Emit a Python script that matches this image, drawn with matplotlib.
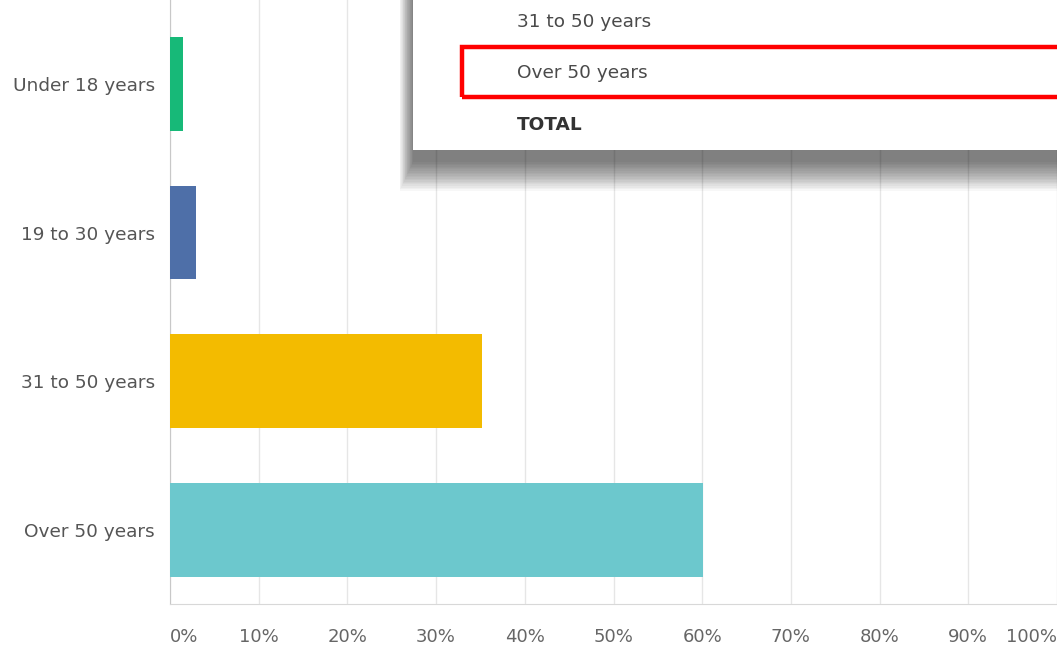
import matplotlib.pyplot as plt
from matplotlib.patches import Rectangle

# Survey answers (percent of respondents)
categories = ['Over 50 years', '31 to 50 years', '19 to 30 years', 'Under 18 years']
values = [60.1, 35.2, 2.9, 1.5]
colors = ['#6cc8cd', '#f3bb00', '#4e6fa8', '#17b978']
ticks = [0, 10, 20, 30, 40, 50, 60, 70, 80, 90, 100]
tick_labels = ['%d%%' % t for t in ticks]

# Rows of the popup table shown over the chart
popup_rows = ['31 to 50 years', 'Over 50 years', 'TOTAL']

W, H = 1057, 651
plt.rcParams['font.family'] = ['DejaVu Sans']
fig = plt.figure(figsize=(W / 100, H / 100), dpi=100)
ax = fig.add_axes([170 / W, 47 / H, 1 - 170 / W, 1 - 47 / H])

ax.barh(range(len(categories)), values, height=0.63, color=colors, zorder=3)
ax.set_xlim(0, 100)
ax.set_ylim(-0.498, 3.565)

ax.set_xticks(ticks)
ax.set_xticklabels(tick_labels)
ax.set_yticks(range(len(categories)))
ax.set_yticklabels(categories)
ax.tick_params(axis='x', length=0, pad=17, labelsize=13, labelcolor='#666666')
ax.tick_params(axis='y', length=0, pad=11, labelsize=13.3, labelcolor='#555555')
xl = ax.get_xticklabels()
xl[0].set_ha('left')
xl[-1].set_ha('right')

ax.grid(axis='x', color='#e6e6e6', linewidth=1, zorder=0)
for s in ['top', 'right']:
    ax.spines[s].set_visible(False)
ax.spines['left'].set_color('#c8c8c8')
ax.spines['bottom'].set_color('#d8d8d8')


def px(x, y, w, h):
    # pixel box (from top-left) -> figure fraction
    return (x / W, 1 - (y + h) / H), w / W, h / H


# soft shadow under the popup
for k in range(20):
    (x0, y0), w, h = px(413 - k * 0.7, -10, 700, 160 + 12 + k * 1.5)
    fig.patches.append(Rectangle((x0, y0), w, h, transform=fig.transFigure,
                                 facecolor='black', alpha=0.03, edgecolor='none', zorder=10))

(x0, y0), w, h = px(413, -10, 700, 160)
fig.patches.append(Rectangle((x0, y0), w, h, transform=fig.transFigure,
                             facecolor='white', edgecolor='none', zorder=11))

(x0, y0), w, h = px(462, 47, 620, 50)
fig.patches.append(Rectangle((x0, y0), w, h, transform=fig.transFigure,
                             facecolor='none', edgecolor='#ff0000', linewidth=3.2, zorder=12))

for i, row in enumerate(popup_rows):
    bold = row == 'TOTAL'
    fig.text(517 / W, 1 - (22 + i * 51.5) / H, row, ha='left', va='center',
             fontsize=13.3, color='#333333' if bold else '#4a4a4a',
             fontweight='bold' if bold else 'normal', zorder=13)

fig.savefig('out.png', dpi=100)
